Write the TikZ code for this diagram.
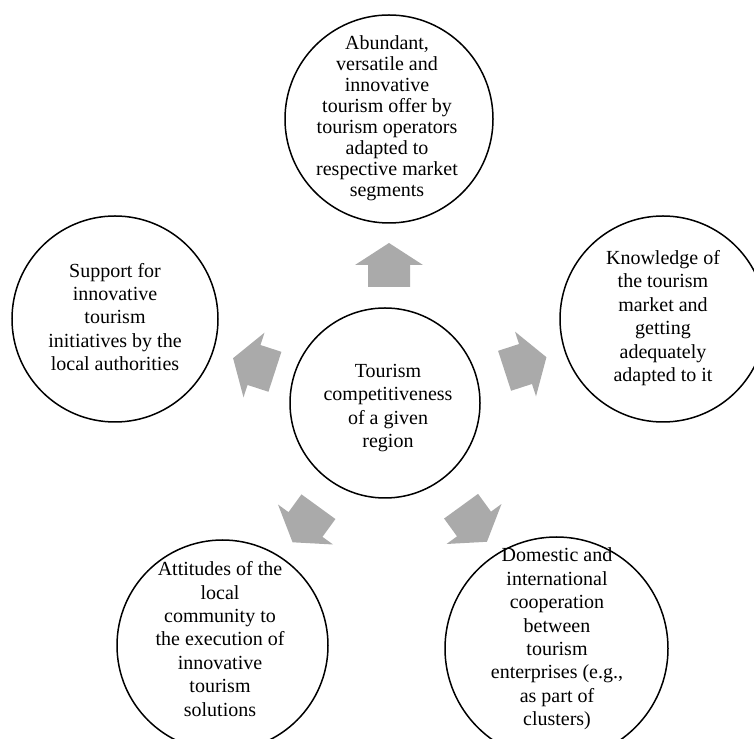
\documentclass[tikz,border=0pt]{standalone}
\usepackage{fontspec}
\setmainfont{Liberation Serif}
\usetikzlibrary{shapes.geometric}
\definecolor{arrowgray}{RGB}{170,170,170}
\tikzset{
  bubble/.style={draw=black, line width=1.5pt, circle, inner sep=0pt},
  btext/.style={align=center, font=\fontsize{20}{23.4}\selectfont, inner sep=0pt},
  blockarrow/.style={fill=arrowgray, draw=none}
}
\begin{document}
\begin{tikzpicture}[x=1pt,y=1pt]
\useasboundingbox (0,0) rectangle (754,738);
\clip (0,0) rectangle (754,738);
% circles
\node[bubble, minimum size=190pt] (center) at (385,335) {};
\node[bubble, minimum size=208pt] (top) at (389,619) {};
\node[bubble, minimum size=206pt] (left) at (115,419) {};
\node[bubble, minimum size=206pt] (right) at (663,419) {};
\node[bubble, minimum size=211pt] (bl) at (222.5,92.5) {};
\node[bubble, minimum size=223pt] (br) at (556.5,89.5) {};
% texts
\node[btext] (centert) at (388,330) {Tourism\\competitiveness\\of a given\\region};
\node[btext, font=\fontsize{20}{21}\selectfont] (topt) at (387,620) {Abundant,\\versatile and\\innovative\\tourism offer by\\tourism operators\\adapted to\\respective market\\segments};
\node[btext] (leftt) at (115,421) {Support for\\innovative\\tourism\\initiatives by the\\local authorities};
\node[btext] (rightt) at (663,420) {Knowledge of\\the tourism\\market and\\getting\\adequately\\adapted to it};
\node[btext] (blt) at (220,99) {Attitudes of the\\local\\community to\\the execution of\\innovative\\tourism\\solutions};
\node[btext] (brt) at (557,99) {Domestic and\\international\\cooperation\\between\\tourism\\enterprises (e.g.,\\as part of\\clusters)};
% block arrows
\foreach \cx/\cy/\a in {389/473/90, 254/373/162, 525.5/374/18, 305.5/213.5/234, 474/214/306}
  \fill[blockarrow, shift={(\cx,\cy)}, rotate=\a]
    (-22,-21) -- (0,-21) -- (0,-34) -- (22,0) -- (0,34) -- (0,21) -- (-22,21) -- cycle;
\end{tikzpicture}
\end{document}
